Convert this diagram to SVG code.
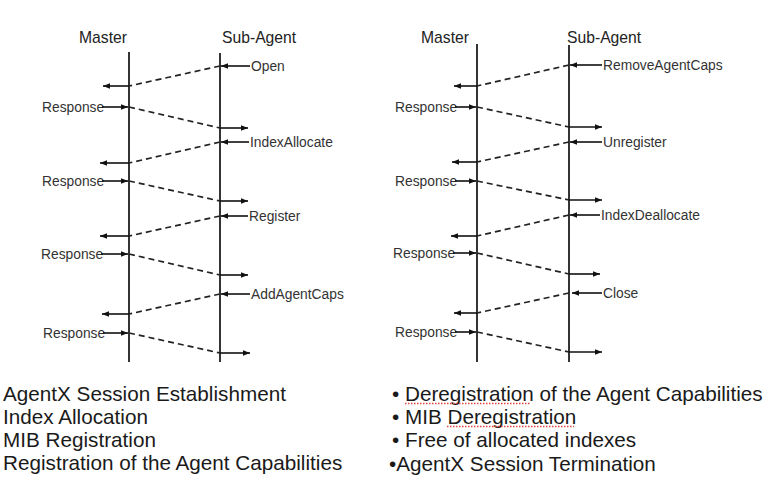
<svg xmlns="http://www.w3.org/2000/svg" width="769" height="482" viewBox="0 0 769 482">
<defs>
<marker id="ah" markerUnits="userSpaceOnUse" markerWidth="8" markerHeight="6" refX="7" refY="3" orient="auto">
<path d="M0,0.2 L7,3 L0,5.8 z" fill="#111"/>
</marker>
<style>
.life{stroke:#111;stroke-width:1.7;fill:none}
.dash{stroke:#222;stroke-width:1.7;stroke-dasharray:6,4;fill:none}
.arr{stroke:#111;stroke-width:1.6;fill:none;marker-end:url(#ah)}
.hd{font-family:"Liberation Sans",Arial,sans-serif;font-size:15.7px;fill:#222}
.lb{font-family:"Liberation Sans",Arial,sans-serif;font-size:13.8px;fill:#333}
.bt{font-family:"Liberation Sans",Arial,sans-serif;font-size:20.7px;fill:#1a1a1a}
.sq{stroke:#e0463c;stroke-width:1.3;stroke-dasharray:1.5,1.5;fill:none}
</style>
</defs>
<rect width="769" height="482" fill="#fff"/>

<g id="left-master">
<text class="hd" x="79" y="43">Master</text>
<line class="life" x1="129" y1="52" x2="129" y2="362"/>
</g>
<g id="left-subagent">
<text class="hd" x="222" y="43">Sub-Agent</text>
<line class="life" x1="220" y1="53" x2="220" y2="362"/>
</g>
<g id="right-master">
<text class="hd" x="421" y="43">Master</text>
<line class="life" x1="477" y1="44" x2="477" y2="362"/>
</g>
<g id="right-subagent">
<text class="hd" x="567" y="43">Sub-Agent</text>
<line class="life" x1="569" y1="45" x2="569" y2="362"/>
</g>

<g id="left-labels">
<text class="lb" x="251" y="71">Open</text>
<text class="lb" x="42" y="112">Response</text>
<text class="lb" x="250" y="147">IndexAllocate</text>
<text class="lb" x="42" y="186">Response</text>
<text class="lb" x="249" y="221">Register</text>
<text class="lb" x="41" y="259">Response</text>
<text class="lb" x="251" y="299">AddAgentCaps</text>
<text class="lb" x="43" y="338">Response</text>
</g>
<g id="right-labels">
<text class="lb" x="603" y="70">RemoveAgentCaps</text>
<text class="lb" x="395" y="112">Response</text>
<text class="lb" x="603" y="147">Unregister</text>
<text class="lb" x="395" y="186">Response</text>
<text class="lb" x="601" y="220">IndexDeallocate</text>
<text class="lb" x="393" y="258">Response</text>
<text class="lb" x="603" y="298">Close</text>
<text class="lb" x="395" y="337">Response</text>
</g>

<g id="connectors">
<line class="arr" x1="250" y1="66" x2="221" y2="66"/>
<line class="dash" x1="220" y1="66" x2="129" y2="86"/>
<line class="arr" x1="129" y1="86" x2="103" y2="86"/>
<line class="arr" x1="102" y1="107" x2="128" y2="107"/>
<line class="dash" x1="129" y1="107" x2="220" y2="128"/>
<line class="arr" x1="220" y1="128" x2="248" y2="128"/>
<line class="arr" x1="249" y1="142" x2="221" y2="142"/>
<line class="dash" x1="220" y1="142" x2="129" y2="163"/>
<line class="arr" x1="129" y1="163" x2="100" y2="163"/>
<line class="arr" x1="102" y1="181" x2="128" y2="181"/>
<line class="dash" x1="129" y1="181" x2="220" y2="201"/>
<line class="arr" x1="220" y1="201" x2="248" y2="201"/>
<line class="arr" x1="248" y1="216" x2="221" y2="216"/>
<line class="dash" x1="220" y1="216" x2="129" y2="236"/>
<line class="arr" x1="129" y1="236" x2="100" y2="236"/>
<line class="arr" x1="101" y1="254" x2="128" y2="254"/>
<line class="dash" x1="129" y1="254" x2="220" y2="275"/>
<line class="arr" x1="220" y1="275" x2="248" y2="275"/>
<line class="arr" x1="250" y1="294" x2="221" y2="294"/>
<line class="dash" x1="220" y1="294" x2="129" y2="314"/>
<line class="arr" x1="129" y1="314" x2="102" y2="314"/>
<line class="arr" x1="103" y1="333" x2="128" y2="333"/>
<line class="dash" x1="129" y1="333" x2="220" y2="353"/>
<line class="arr" x1="220" y1="353" x2="250" y2="353"/>

<line class="arr" x1="602" y1="65" x2="570" y2="65"/>
<line class="dash" x1="569" y1="65" x2="477" y2="86"/>
<line class="arr" x1="477" y1="86" x2="454" y2="86"/>
<line class="arr" x1="455" y1="107" x2="476" y2="107"/>
<line class="dash" x1="477" y1="107" x2="569" y2="127"/>
<line class="arr" x1="569" y1="127" x2="602" y2="127"/>
<line class="arr" x1="602" y1="142" x2="570" y2="142"/>
<line class="dash" x1="569" y1="142" x2="477" y2="162"/>
<line class="arr" x1="477" y1="162" x2="452" y2="162"/>
<line class="arr" x1="455" y1="181" x2="476" y2="181"/>
<line class="dash" x1="477" y1="181" x2="569" y2="200"/>
<line class="arr" x1="569" y1="200" x2="602" y2="200"/>
<line class="arr" x1="600" y1="215" x2="570" y2="215"/>
<line class="dash" x1="569" y1="215" x2="477" y2="236"/>
<line class="arr" x1="477" y1="236" x2="451" y2="236"/>
<line class="arr" x1="453" y1="253" x2="476" y2="253"/>
<line class="dash" x1="477" y1="253" x2="569" y2="274"/>
<line class="arr" x1="569" y1="274" x2="600" y2="274"/>
<line class="arr" x1="602" y1="293" x2="572" y2="293"/>
<line class="dash" x1="569" y1="293" x2="477" y2="313"/>
<line class="arr" x1="477" y1="313" x2="454" y2="313"/>
<line class="arr" x1="455" y1="332" x2="476" y2="332"/>
<line class="dash" x1="477" y1="332" x2="569" y2="352"/>
<line class="arr" x1="569" y1="352" x2="602" y2="352"/>
</g>

<g id="left-notes">
<text class="bt" x="3" y="401">AgentX Session Establishment</text>
<text class="bt" x="3" y="424">Index Allocation</text>
<text class="bt" x="3" y="447">MIB Registration</text>
<text class="bt" x="3" y="470">Registration of the Agent Capabilities</text>
</g>
<g id="right-notes">
<text class="bt" x="392" y="401">• Deregistration of the Agent Capabilities</text>
<text class="bt" x="392" y="424">• MIB Deregistration</text>
<text class="bt" x="392" y="447">• Free of allocated indexes</text>
<text class="bt" x="389" y="471">•AgentX Session Termination</text>
<line class="sq" x1="405" y1="403.5" x2="530" y2="403.5"/>
<line class="sq" x1="447" y1="426.5" x2="574" y2="426.5"/>
</g>
</svg>
